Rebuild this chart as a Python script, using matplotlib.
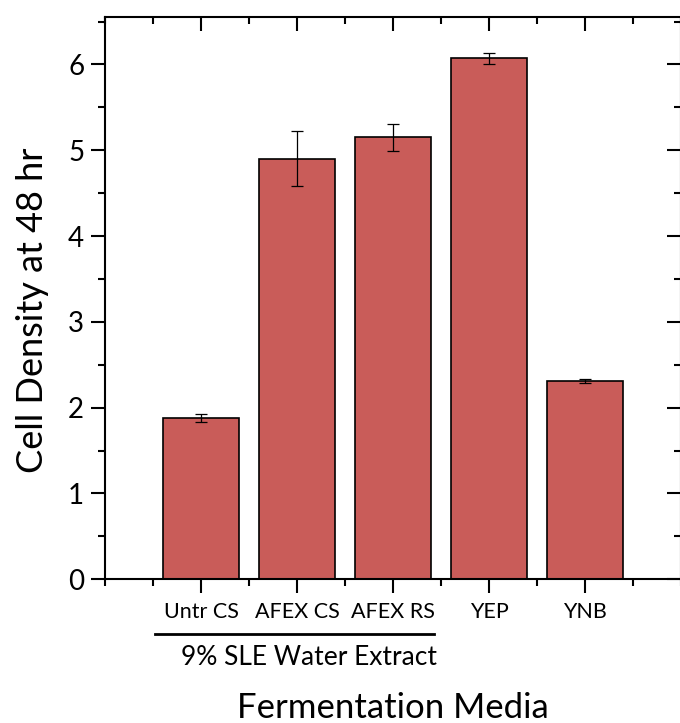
import matplotlib
matplotlib.use("Agg")
import matplotlib.pyplot as plt
from matplotlib.ticker import MultipleLocator

plt.rcParams['font.family'] = ['Lato', 'DejaVu Sans']

# Data
media = ["Untr CS", "AFEX CS", "AFEX RS", "YEP", "YNB"]
cell_density = [1.88, 4.90, 5.15, 6.07, 2.31]
density_err = [0.045, 0.32, 0.16, 0.06, 0.02]
group_label = "9% SLE Water Extract"
group_members = ["Untr CS", "AFEX CS", "AFEX RS"]

bar_color = "#C95C59"

fig = plt.figure(figsize=(6.8, 7.23), dpi=100)
W, H = 680, 723
ax = fig.add_axes([105 / W, 1 - 579.3 / H, 576 / W, 562 / H])

x = list(range(1, len(media) + 1))
ax.bar(x, cell_density, width=0.8, color=bar_color, edgecolor="black",
       linewidth=1.2, zorder=2)
ax.errorbar(x, cell_density, yerr=density_err, fmt="none", ecolor="black",
            elinewidth=0.9, capsize=4, capthick=0.9, zorder=3)

ax.set_xlim(0, 6)
ax.set_ylim(0, 6.55)

ax.set_xticks(x)
ax.set_xticklabels(media, fontsize=15.5)
ax.xaxis.set_minor_locator(MultipleLocator(0.5))
ax.yaxis.set_major_locator(MultipleLocator(1))
ax.yaxis.set_minor_locator(MultipleLocator(0.5))
ax.tick_params(axis="y", labelsize=20, pad=5)

for s in ax.spines.values():
    s.set_linewidth(1.5)

ax.tick_params(which="major", length=10, width=1.5)
ax.tick_params(which="minor", length=5, width=1.5)
ax.tick_params(axis="x", which="both", direction="out", top=True, pad=6)
ax.tick_params(axis="y", which="both", direction="out", right=True)
# top and right edge ticks point into the plot
for tick in ax.xaxis.get_major_ticks() + ax.xaxis.get_minor_ticks():
    tick.tick2line.set_marker(3)  # TICKDOWN
for tick in ax.yaxis.get_major_ticks() + ax.yaxis.get_minor_ticks():
    tick.tick2line.set_marker(0)  # TICKLEFT

ax.set_ylabel("Cell Density at 48 hr", fontsize=26)
ax.yaxis.set_label_coords(-0.097, 0.478)
ax.set_xlabel("Fermentation Media", fontsize=25, labelpad=51)

# grouping bracket under the first three categories
first = media.index(group_members[0]) + 1
last = media.index(group_members[-1]) + 1
tr = ax.get_xaxis_transform()
ax.plot([first - 0.48, last + 0.43], [-0.097, -0.097], color="black",
        linewidth=2, transform=tr, clip_on=False)
ax.text((first + last) / 2 + 0.13, -0.139, group_label, transform=tr,
        ha="center", va="center", fontsize=19)

fig.savefig("out.png", dpi=100)
